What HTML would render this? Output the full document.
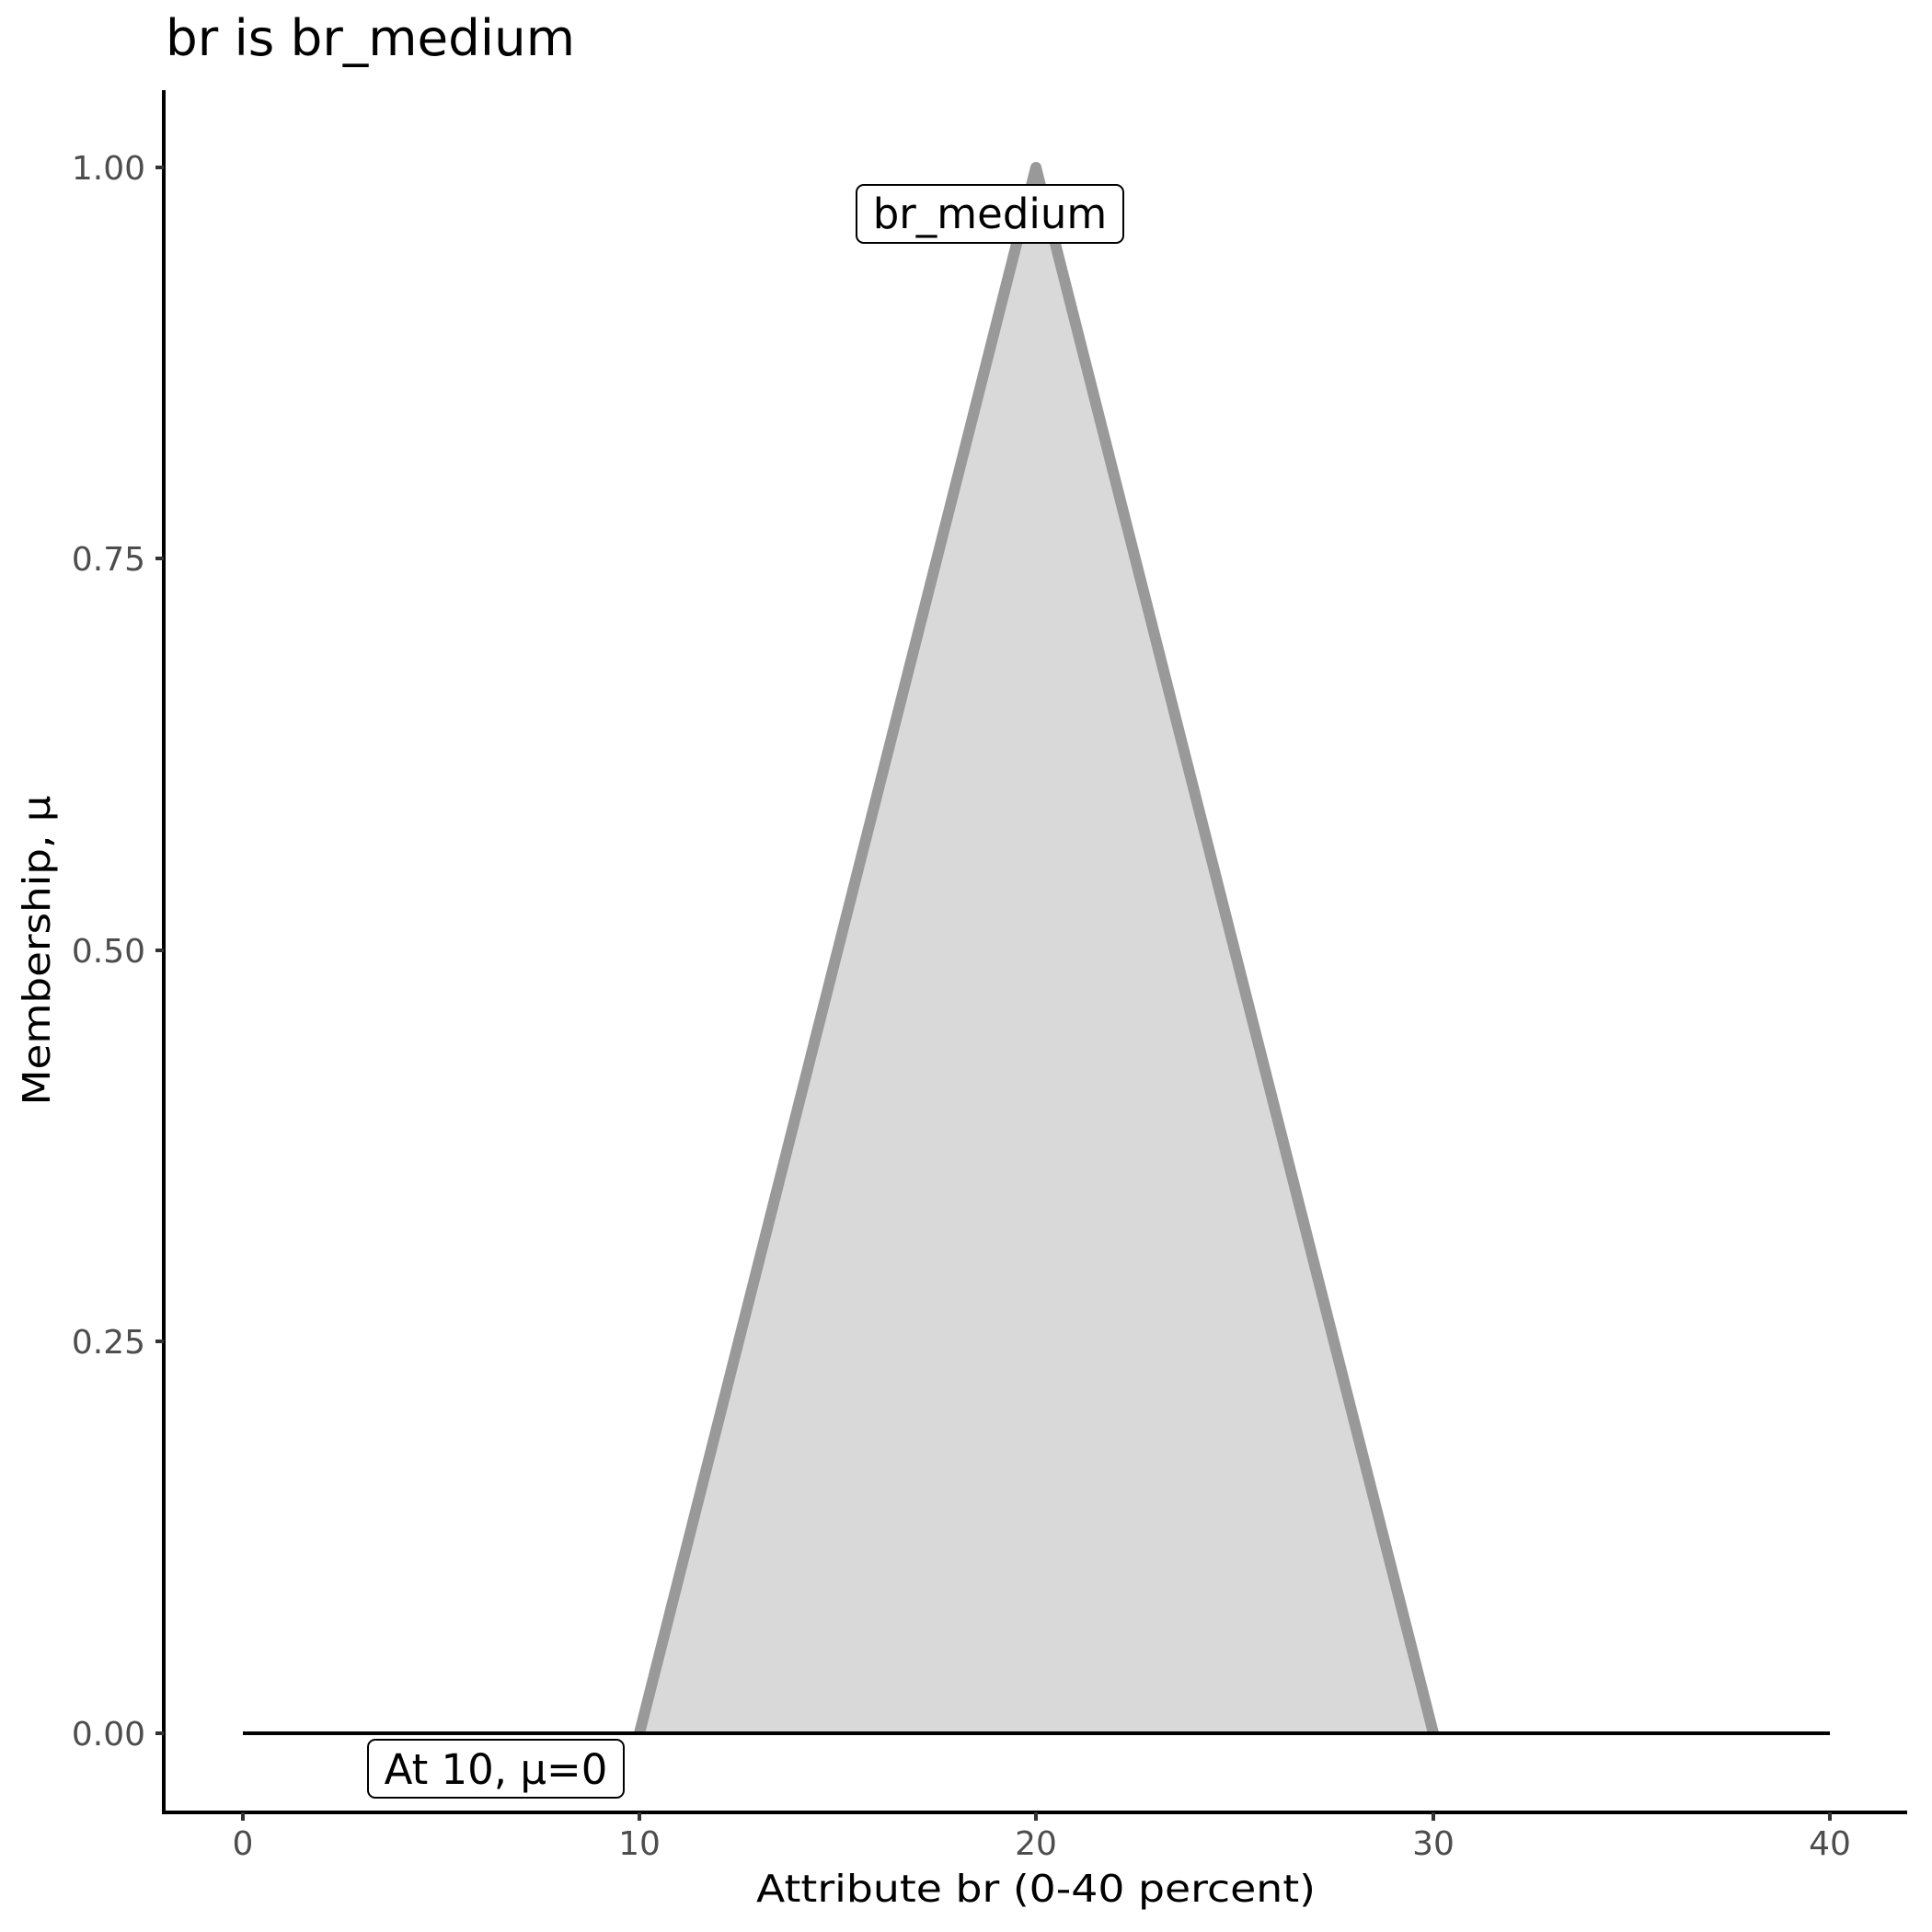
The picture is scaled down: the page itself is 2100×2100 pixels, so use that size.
<!DOCTYPE html>
<html><head><meta charset="utf-8"><style>html,body{margin:0;padding:0;background:#fff}svg{display:block}text{font-family:"DejaVu Sans","Liberation Sans",sans-serif}</style></head>
<body>
<svg width="2100" height="2100" viewBox="0 0 2100 2100" xmlns="http://www.w3.org/2000/svg">
<rect width="2100" height="2100" fill="#fff"/>
<text x="180" y="60" font-size="54" fill="#000" textLength="445" lengthAdjust="spacingAndGlyphs">br is br_medium</text>
<polygon points="695,1884 1126,182 1558,1884" fill="#d9d9d9"/>
<polyline points="695,1884 1126,182 1558,1884" fill="none" stroke="#999" stroke-width="12" stroke-linejoin="round" stroke-linecap="butt"/>
<line x1="264" y1="1884" x2="1989" y2="1884" stroke="#000" stroke-width="4"/>
<line x1="178" y1="98" x2="178" y2="1972" stroke="#000" stroke-width="4"/>
<line x1="176" y1="1970" x2="2073" y2="1970" stroke="#000" stroke-width="4"/>
<g stroke="#333" stroke-width="4">
<line x1="169" y1="182" x2="178" y2="182"/><line x1="169" y1="607" x2="178" y2="607"/><line x1="169" y1="1033" x2="178" y2="1033"/><line x1="169" y1="1458" x2="178" y2="1458"/><line x1="169" y1="1884" x2="178" y2="1884"/>
<line x1="264" y1="1970" x2="264" y2="1979"/><line x1="695" y1="1970" x2="695" y2="1979"/><line x1="1126" y1="1970" x2="1126" y2="1979"/><line x1="1558" y1="1970" x2="1558" y2="1979"/><line x1="1989" y1="1970" x2="1989" y2="1979"/>
</g>
<g font-size="36" fill="#4d4d4d" text-anchor="end">
<text x="158" y="195">1.00</text><text x="158" y="620">0.75</text><text x="158" y="1046">0.50</text><text x="158" y="1471">0.25</text><text x="158" y="1897">0.00</text>
</g>
<g font-size="36" fill="#4d4d4d" text-anchor="middle">
<text x="264" y="2016">0</text><text x="695" y="2016">10</text><text x="1126" y="2016">20</text><text x="1558" y="2016">30</text><text x="1989" y="2016">40</text>
</g>
<text x="1126" y="2067" font-size="41" text-anchor="middle" fill="#000" textLength="608" lengthAdjust="spacingAndGlyphs">Attribute br (0-40 percent)</text>
<text transform="translate(54,1033) rotate(-90)" font-size="41" text-anchor="middle" fill="#000" textLength="337" lengthAdjust="spacingAndGlyphs">Membership, μ</text>
<rect x="931" y="201" width="290" height="63" rx="8" fill="#fff" stroke="#000" stroke-width="2"/>
<text x="1076" y="248" font-size="45" text-anchor="middle" fill="#000">br_medium</text>
<rect x="400" y="1891" width="278" height="63" rx="8" fill="#fff" stroke="#000" stroke-width="2"/>
<text x="539" y="1939" font-size="45" text-anchor="middle" fill="#000">At 10, μ=0</text>
</svg>
</body></html>
